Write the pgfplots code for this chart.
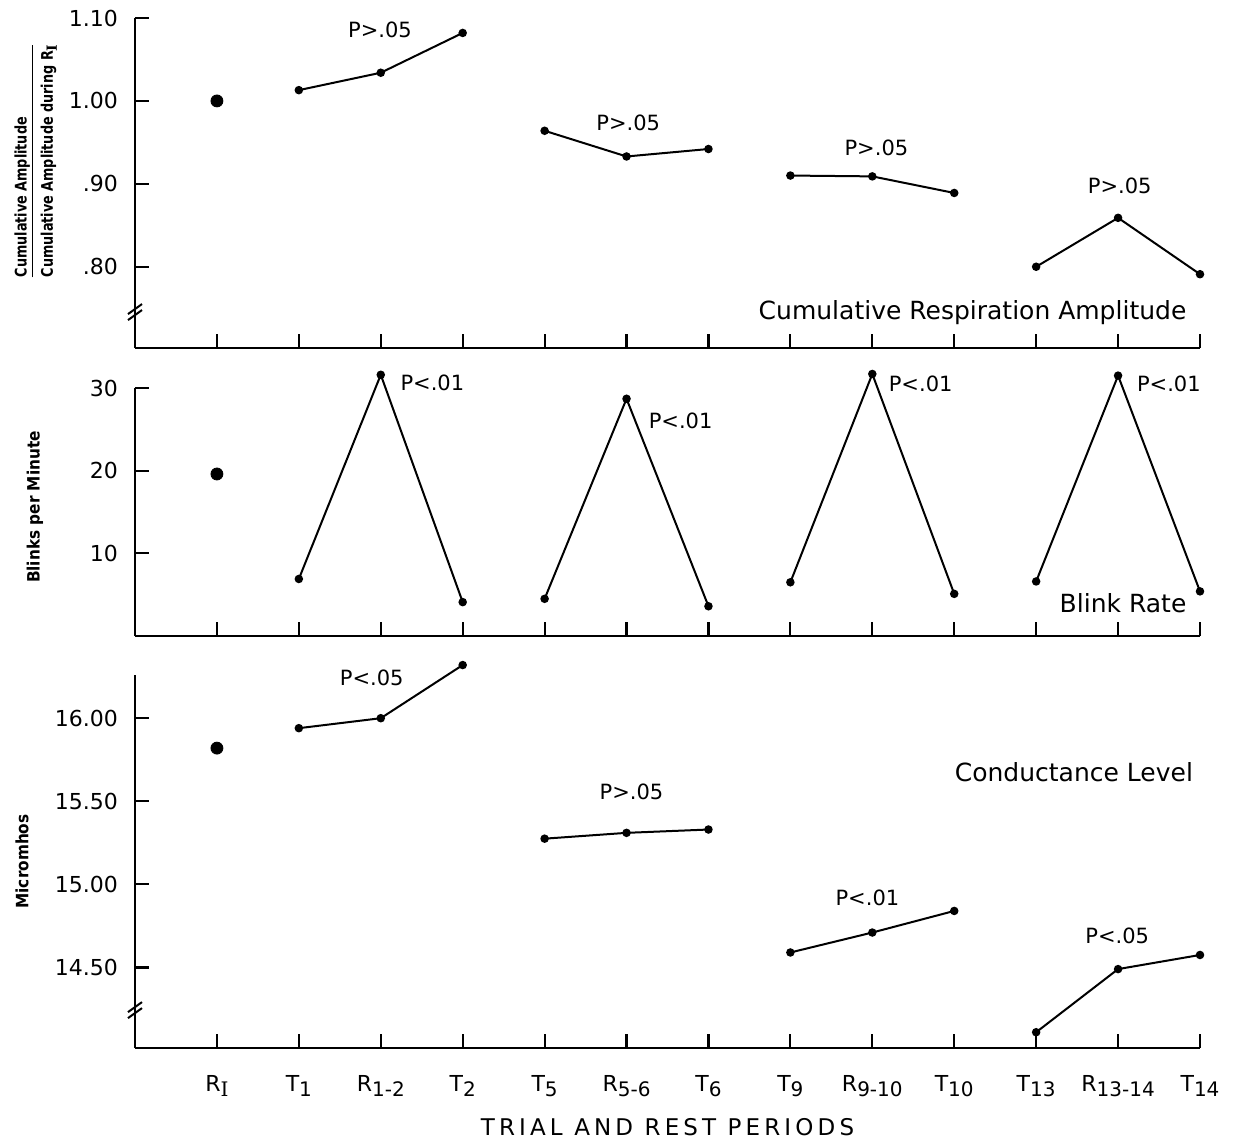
\documentclass[border=0pt]{standalone}
\usepackage{fontspec}
\setmainfont{DejaVu Sans}
\newfontfamily\serifI{DejaVu Serif}
\usepackage{pgfplots}
\pgfplotsset{compat=1.18}
\newcommand\sub[1]{\raisebox{-0.45ex}{\fontsize{10}{10}\selectfont #1}}
\newcommand\subs[1]{\raisebox{-0.45ex}{\fontsize{7}{7}\selectfont #1}}
\tikzset{
 lbl/.style={font=\fontsize{10.5}{12}\selectfont},
 big/.style={font=\fontsize{12.5}{14}\selectfont},
 ser/.style={black, line width=1pt, mark=*, mark size=1.6pt, mark options={solid, fill=black}},
 dot/.style={black, only marks, mark=*, mark size=3pt, mark options={solid, fill=black}},
}
\begin{document}
\begin{tikzpicture}
\useasboundingbox (0,0) rectangle (616.5pt,-571pt);
\pgfplotsset{
 panel/.style={
  scale only axis, width=532.5pt, xmin=0, xmax=13,
  axis x line*=bottom, axis y line*=left,
  axis line style={line width=1.4pt, -},
  tick align=inside, major tick length=7pt,
  tick style={line width=1.1pt, black},
  xtick={1,...,13},
  clip=false,
  /pgf/number format/assume math mode=true,
  yticklabel style={font=\fontsize{11}{13}\selectfont, xshift=-5pt},
  xticklabel style={font=\fontsize{11}{13}\selectfont},
  ylabel style={font=\fontsize{8.5}{10}\selectfont\bfseries\addfontfeature{FakeStretch=0.9}, anchor=center},
  anchor=south west,
 },
}
% ---------- Panel 1 ----------
\begin{axis}[panel, at={(67.5pt,-174pt)}, height=165pt,
  ymin=0.702, ymax=1.10, ytick={0.8,0.9,1.0,1.1},
  yticklabels={.80,.90,1.00,1.10}, xticklabels={},
  ylabel={\begin{tabular}{@{}l@{}}Cumulative Amplitude\\[0pt]\hline\rule{0pt}{10pt}Cumulative Amplitude during R\subs{\serifI I}\end{tabular}},
  ylabel style={font=\fontsize{8}{9.5}\selectfont\bfseries\addfontfeature{FakeStretch=0.8}, at={(axis description cs:-0.093,0.567)}}]
\addplot[dot] coordinates {(1,1.00)};
\addplot[ser] coordinates {(2,1.013)(3,1.034)(4,1.082)};
\addplot[ser] coordinates {(5,0.964)(6,0.933)(7,0.942)};
\addplot[ser] coordinates {(8,0.910)(9,0.909)(10,0.889)};
\addplot[ser] coordinates {(11,0.800)(12,0.859)(13,0.791)};
\node[lbl] at (axis cs:2.99,1.0855) {P>.05};
\node[lbl] at (axis cs:6.02,0.974) {P>.05};
\node[lbl] at (axis cs:9.05,0.943) {P>.05};
\node[lbl] at (axis cs:12.02,0.898) {P>.05};
\node[big, anchor=east] at (axis cs:12.92,0.7445) {Cumulative Respiration Amplitude};
\draw[line width=1pt] ([xshift=-3.5pt,yshift=-5pt]rel axis cs:0,0.115) -- ++(7pt,5pt);
\draw[line width=1pt] ([xshift=-3.5pt,yshift=-2pt]rel axis cs:0,0.115) -- ++(7pt,5pt);
\end{axis}
% ---------- Panel 2 ----------
\begin{axis}[panel, at={(67.5pt,-318pt)}, height=124pt,
  ymin=0, ymax=30, ytick={10,20,30}, xticklabels={},
  ylabel={Blinks per Minute},
  ylabel style={at={(axis description cs:-0.094,0.52)}}]
\addplot[dot] coordinates {(1,19.6)};
\addplot[ser] coordinates {(2,6.9)(3,31.6)(4,4.1)};
\addplot[ser] coordinates {(5,4.5)(6,28.7)(7,3.6)};
\addplot[ser] coordinates {(8,6.5)(9,31.7)(10,5.1)};
\addplot[ser] coordinates {(11,6.6)(12,31.5)(13,5.4)};
\node[lbl] at (axis cs:3.63,30.6) {P<.01};
\node[lbl] at (axis cs:6.66,26.0) {P<.01};
\node[lbl] at (axis cs:9.59,30.5) {P<.01};
\node[lbl] at (axis cs:12.62,30.5) {P<.01};
\node[big, anchor=east] at (axis cs:12.92,3.98) {Blink Rate};
\end{axis}
% ---------- Panel 3 ----------
\begin{axis}[panel, at={(67.5pt,-524pt)}, height=186.5pt,
  ymin=14.015, ymax=16.26, ytick={14.5,15,15.5,16},
  yticklabels={14.50,15.00,15.50,16.00},
  xticklabels={R\sub{\serifI I},T\sub{1},R\sub{1-2},T\sub{2},T\sub{5},R\sub{5-6},T\sub{6},T\sub{9},R\sub{9-10},T\sub{10},T\sub{13},R\sub{13-14},T\sub{14}},
  xticklabel style={yshift=-10pt},
  ylabel={Micromhos},
  ylabel style={at={(axis description cs:-0.106,0.5)}},
  xlabel={TRIAL AND REST PERIODS},
  xlabel style={font=\fontsize{11.5}{13}\selectfont\addfontfeature{LetterSpace=18}, at={(axis description cs:0.5,0)}, anchor=center, yshift=-39.5pt}]
\addplot[dot] coordinates {(1,15.82)};
\addplot[ser] coordinates {(2,15.94)(3,16.00)(4,16.32)};
\addplot[ser] coordinates {(5,15.275)(6,15.31)(7,15.33)};
\addplot[ser] coordinates {(8,14.59)(9,14.71)(10,14.84)};
\addplot[ser] coordinates {(11,14.11)(12,14.49)(13,14.575)};
\node[lbl] at (axis cs:2.89,16.24) {P<.05};
\node[lbl] at (axis cs:6.06,15.557) {P>.05};
\node[lbl] at (axis cs:8.94,14.92) {P<.01};
\node[lbl] at (axis cs:11.99,14.69) {P<.05};
\node[big, anchor=east] at (axis cs:13.0,15.677) {Conductance Level};
\draw[line width=1pt] ([xshift=-3.5pt,yshift=-5pt]rel axis cs:0,0.107) -- ++(7pt,5pt);
\draw[line width=1pt] ([xshift=-3.5pt,yshift=-2pt]rel axis cs:0,0.107) -- ++(7pt,5pt);
\end{axis}
\end{tikzpicture}
\end{document}
